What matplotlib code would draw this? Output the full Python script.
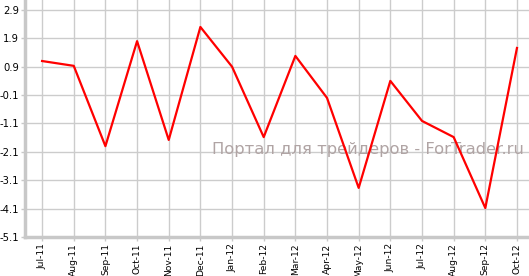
import matplotlib.pyplot as plt
import numpy as np

# data
months = ["Jul-11", "Aug-11", "Sep-11", "Oct-11", "Nov-11", "Dec-11", "Jan-12", "Feb-12",
          "Mar-12", "Apr-12", "May-12", "Jun-12", "Jul-12", "Aug-12", "Sep-12", "Oct-12"]
values = [1.1, 0.93, -1.9, 1.8, -1.68, 2.3, 0.9, -1.58,
          1.28, -0.2, -3.37, 0.4, -1.01, -1.58, -4.08, 1.56]
yticks = [2.9, 1.9, 0.9, -0.1, -1.1, -2.1, -3.1, -4.1, -5.1]

fig = plt.figure(figsize=(5.29, 2.76), dpi=100)
ax = fig.add_axes([25 / 529, 39 / 276, 504 / 529, 237 / 276])

x = np.arange(len(months))
ax.plot(x, values, color="#ff0000", linewidth=1.6, zorder=3)

ax.set_xlim(-0.54, len(months) - 1 + 0.38)
ax.set_ylim(-5.1, 3.25)
ax.set_xticks(x)
ax.set_xticklabels(months, rotation=90, fontsize=6.6)
ax.set_yticks(yticks)
ax.set_yticklabels(["%.1f" % v for v in yticks], fontsize=7.2)

ax.grid(True, color="#cccccc", linewidth=1.0)
ax.set_axisbelow(True)
for s in ["top", "right"]:
    ax.spines[s].set_visible(False)
for s in ["left", "bottom"]:
    ax.spines[s].set_color("#c8c8c8")
    ax.spines[s].set_linewidth(2.5)
ax.tick_params(axis="both", colors="#c8c8c8", length=3, width=1, labelcolor="black", pad=1.5)

# watermark
ax.text(0.99, 0.37, "Портал для трейдеров - ForTrader.ru", transform=ax.transAxes,
        ha="right", va="center", fontsize=11.8, color="#b0a4a4", zorder=2)

fig.savefig("out.png", dpi=100)
